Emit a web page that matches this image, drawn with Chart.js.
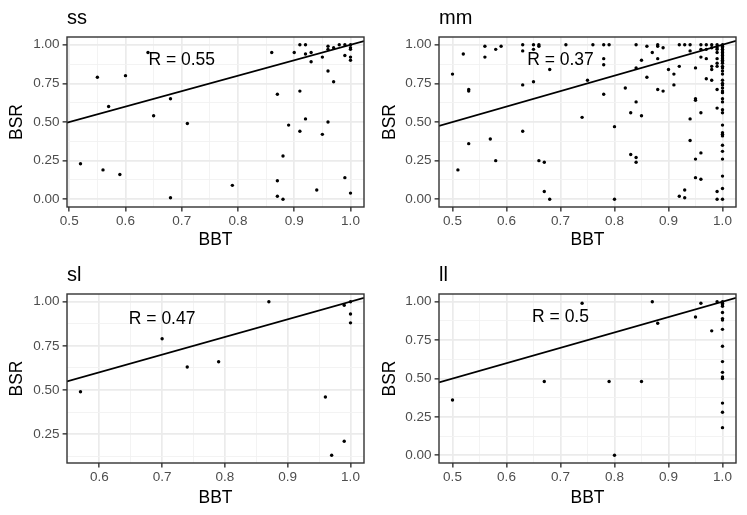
<!DOCTYPE html>
<html>
<head>
<meta charset="utf-8">
<script src="https://cdn.jsdelivr.net/npm/chart.js@4.4.1/dist/chart.umd.min.js"></script>
<style>
  html, body { margin: 0; padding: 0; background: #fff; }
  #wrap { position: relative; width: 747px; height: 515px; }
  .cell { position: absolute; }
</style>
</head>
<body>
<div id="wrap"></div>
<script>
// facet names and the correlation printed in each one
const panelNames = ['ss', 'mm', 'sl', 'll'];
const rLabels = ['R = 0.55', 'R = 0.37', 'R = 0.47', 'R = 0.5'];

// BBT (x) and BSR (y) per group
const ssX = [0.52,0.55,0.56,0.57,0.59,0.60,0.64,0.65,0.68,0.68,0.71,0.79,0.86,0.87,0.87,0.87,0.88,0.88,0.89,0.90,
  0.91,0.91,0.91,0.92,0.92,0.92,0.93,0.93,0.94,0.95,0.95,0.96,0.96,0.96,0.96,0.97,0.97,0.98,0.99,0.99,0.99,
  1.00,1.00,1.00,1.00,1.00,1.00];
const ssY = [0.23,0.79,0.19,0.60,0.16,0.80,0.95,0.54,0.65,0.01,0.49,0.09,0.95,0.68,0.12,0.02,0.28,0.00,0.48,0.95,
  1.00,0.70,0.44,1.00,0.94,0.52,0.95,0.89,0.06,0.92,0.42,0.99,0.97,0.83,0.50,0.98,0.76,1.00,1.00,0.93,0.14,
  1.00,0.98,0.97,0.92,0.90,0.04];

const mmX = [0.50,0.51,0.52,0.53,0.53,0.53,0.56,0.56,0.57,0.58,0.58,0.59,0.63,0.63,0.63,0.63,0.65,0.65,0.65,
  0.66,0.66,0.66,0.67,0.67,0.68,0.68,0.71,0.74,0.75,0.76,0.78,0.78,0.78,0.78,0.79,0.80,0.80,0.82,0.83,0.83,
  0.84,0.84,0.84,0.84,0.84,0.85,0.85,0.86,0.86,0.87,0.88,0.88,0.88,0.88,0.89,0.89,0.90,
  0.91,0.91,0.92,0.92,0.92,0.93,0.93,0.93,0.94,0.94,0.94,0.94,0.95,0.95,0.95,0.95,0.95,
  0.96,0.96,0.96,0.96,0.96,0.96,0.97,0.97,0.97,0.97,0.98,0.98,0.98,0.98,0.98,
  0.99,0.99,0.99,0.99,0.99,0.99,0.99,0.99,0.99,0.99,0.99,
  1.00,1.00,1.00,1.00,1.00,1.00,1.00,1.00,1.00,1.00,1.00,1.00,1.00,1.00,1.00,1.00,1.00,1.00,1.00,
  1.00,1.00,1.00,1.00,1.00,1.00,1.00,1.00,1.00,1.00,1.00,1.00,1.00,1.00,1.00,1.00,1.00,1.00];
const mmY = [0.81,0.19,0.94,0.36,0.71,0.70,0.99,0.92,0.39,0.97,0.25,0.99,1.00,0.96,0.74,0.44,1.00,0.97,0.76,
  1.00,0.99,0.25,0.24,0.05,0.84,0.00,1.00,0.53,0.77,1.00,1.00,0.91,0.87,0.68,1.00,0.47,0.00,0.72,0.56,0.29,
  1.00,0.85,0.63,0.27,0.24,0.90,0.54,0.99,0.79,0.95,1.00,0.99,0.91,0.71,0.98,0.70,0.84,
  0.81,0.74,1.00,0.86,0.02,1.00,0.06,0.01,1.00,0.96,0.52,0.38,0.85,0.65,0.64,0.26,0.14,
  1.00,0.97,0.92,0.56,0.30,0.13,1.00,0.97,0.91,0.78,1.00,0.98,0.86,0.84,0.77,
  1.00,0.98,0.97,0.95,0.91,0.88,0.86,0.71,0.59,0.05,0.00,
  1.00,0.99,0.98,0.97,0.96,0.95,0.94,0.93,0.92,0.91,0.90,0.89,0.88,0.86,0.85,0.83,0.81,0.77,0.75,
  0.74,0.72,0.70,0.69,0.65,0.63,0.58,0.56,0.48,0.43,0.42,0.41,0.35,0.31,0.26,0.15,0.07,0.00];

const slX = [0.57,0.70,0.74,0.79,0.87,0.96,0.97,0.99,0.99,1.00,1.00,1.00];
const slY = [0.49,0.79,0.63,0.66,1.00,0.46,0.13,0.98,0.21,1.00,0.93,0.88];

const llX = [0.50,0.67,0.74,0.79,0.80,0.85,0.87,0.88,0.95,0.96,0.98,0.99,
  1.00,1.00,1.00,1.00,1.00,1.00,1.00,1.00,1.00,1.00,1.00,1.00,1.00,1.00,1.00,1.00];
const llY = [0.36,0.48,0.99,0.48,0.00,0.48,1.00,0.86,0.90,0.99,0.81,1.00,
  1.00,0.99,0.98,0.97,0.93,0.89,0.88,0.82,0.71,0.61,0.54,0.51,0.50,0.34,0.28,0.18];

// axis breaks
const xTicksWide = [0.5, 0.6, 0.7, 0.8, 0.9, 1.0];
const xTicksNarrow = [0.6, 0.7, 0.8, 0.9, 1.0];
const yTicksFull = [0, 0.25, 0.5, 0.75, 1];
const yTicksTop = [0.25, 0.5, 0.75, 1];

const labelAt = { x: 0.7, y: 0.9 };

Chart.defaults.font.family = '"Liberation Sans", Arial, sans-serif';

// cell boxes on the page and the inner panel geometry
const cells = [
  { left: 0,   top: 0,   w: 373, h: 257, yw: 67, pr: 9,  pt: 37, xh: 50 },
  { left: 373, top: 0,   w: 374, h: 257, yw: 66, pr: 11, pt: 37, xh: 50 },
  { left: 0,   top: 257, w: 373, h: 258, yw: 67, pr: 9,  pt: 37, xh: 52 },
  { left: 373, top: 257, w: 374, h: 258, yw: 66, pr: 11, pt: 37, xh: 52 }
];

const series = [[ssX, ssY], [mmX, mmY], [slX, slY], [llX, llY]];
const xBreaks = [xTicksWide, xTicksWide, xTicksNarrow, xTicksWide];
const yBreaks = [yTicksFull, yTicksFull, yTicksTop, yTicksFull];

// ggplot style 5% expansion
function limits(vals) {
  const lo = Math.min(...vals), hi = Math.max(...vals);
  const pad = (hi - lo) * 0.05;
  return [lo - pad, hi + pad];
}

function tickList(majors, lo, hi) {
  const step = majors[1] - majors[0];
  const out = majors.map(v => ({ value: v, isMajor: true }));
  for (let i = -1; i < majors.length; i++) {
    const m = majors[0] + step * (i + 0.5);
    if (m >= lo && m <= hi) out.push({ value: m, isMajor: false });
  }
  return out.sort((a, b) => a.value - b.value);
}

const panelDecor = {
  id: 'panelDecor',
  afterDatasetsDraw(chart, args, opts) {
    const { ctx, chartArea: a, scales } = chart;
    ctx.save();
    ctx.strokeStyle = '#333333';
    ctx.lineWidth = 1.4;
    ctx.strokeRect(a.left, a.top, a.right - a.left, a.bottom - a.top);
    ctx.fillStyle = '#000';
    ctx.font = '17.5px "Liberation Sans", Arial, sans-serif';
    ctx.textAlign = 'center';
    ctx.textBaseline = 'middle';
    ctx.fillText(opts.label, scales.x.getPixelForValue(labelAt.x), scales.y.getPixelForValue(labelAt.y));
    ctx.font = '20px "Liberation Sans", Arial, sans-serif';
    ctx.textAlign = 'left';
    ctx.textBaseline = 'alphabetic';
    ctx.fillText(opts.title, a.left, 24);
    ctx.restore();
  }
};

const wrap = document.getElementById('wrap');

panelNames.forEach((name, i) => {
  const c = cells[i];
  const div = document.createElement('div');
  div.className = 'cell';
  div.style.left = c.left + 'px';
  div.style.top = c.top + 'px';
  div.style.width = c.w + 'px';
  div.style.height = c.h + 'px';
  const canvas = document.createElement('canvas');
  div.appendChild(canvas);
  wrap.appendChild(div);

  const [xs, ys] = series[i];
  const [xMin, xMax] = limits(xs);
  const [yMin, yMax] = limits(ys);
  const points = xs.map((x, k) => ({ x: x, y: ys[k] }));

  const gridColor = ctx => ctx.tick && ctx.tick.isMajor ? '#EBEBEB' : '#F2F2F2';
  const gridWidth = ctx => ctx.tick && ctx.tick.isMajor ? 1.7 : 0.9;
  const tickColor = ctx => ctx.tick && ctx.tick.isMajor ? '#333333' : 'rgba(0,0,0,0)';

  new Chart(canvas, {
    type: 'scatter',
    data: {
      datasets: [
        {
          // y = x reference line
          data: [{ x: xMin, y: xMin }, { x: xMax, y: xMax }],
          showLine: true,
          borderColor: '#000',
          borderWidth: 1.7,
          pointRadius: 0
        },
        {
          data: points,
          backgroundColor: '#000',
          borderWidth: 0,
          pointRadius: 1.7
        }
      ]
    },
    options: {
      responsive: true,
      maintainAspectRatio: false,
      animation: false,
      events: [],
      layout: { padding: { left: 0, top: c.pt, right: c.pr, bottom: 0 } },
      plugins: {
        legend: { display: false },
        tooltip: { enabled: false },
        panelDecor: { title: name, label: rLabels[i] }
      },
      scales: {
        x: {
          type: 'linear',
          min: xMin,
          max: xMax,
          afterBuildTicks: s => { s.ticks = tickList(xBreaks[i], xMin, xMax); },
          afterFit: s => { s.height = c.xh; s.paddingLeft = 0; s.paddingRight = 0; },
          border: { display: false },
          grid: { color: gridColor, lineWidth: gridWidth, tickColor: tickColor, tickLength: 4.4, tickWidth: 1.4 },
          ticks: {
            autoSkip: false,
            maxRotation: 0,
            padding: 2,
            color: '#4D4D4D',
            font: { size: 13.5 },
            callback: function (v, k, ticks) { return ticks[k].isMajor ? v.toFixed(1) : ''; }
          },
          title: { display: true, text: 'BBT', color: '#000', font: { size: 17.5 }, padding: { top: 0, bottom: 6 } }
        },
        y: {
          type: 'linear',
          min: yMin,
          max: yMax,
          afterBuildTicks: s => { s.ticks = tickList(yBreaks[i], yMin, yMax); },
          afterFit: s => { s.width = c.yw; s.paddingTop = 0; s.paddingBottom = 0; },
          border: { display: false },
          grid: { color: gridColor, lineWidth: gridWidth, tickColor: tickColor, tickLength: 4.4, tickWidth: 1.4 },
          ticks: {
            autoSkip: false,
            padding: 3,
            color: '#4D4D4D',
            font: { size: 13.5 },
            callback: function (v, k, ticks) { return ticks[k].isMajor ? v.toFixed(2) : ''; }
          },
          title: { display: true, text: 'BSR', color: '#000', font: { size: 17.5 }, padding: { top: 7, bottom: 0 } }
        }
      }
    },
    plugins: [panelDecor]
  });
});
</script>
</body>
</html>
